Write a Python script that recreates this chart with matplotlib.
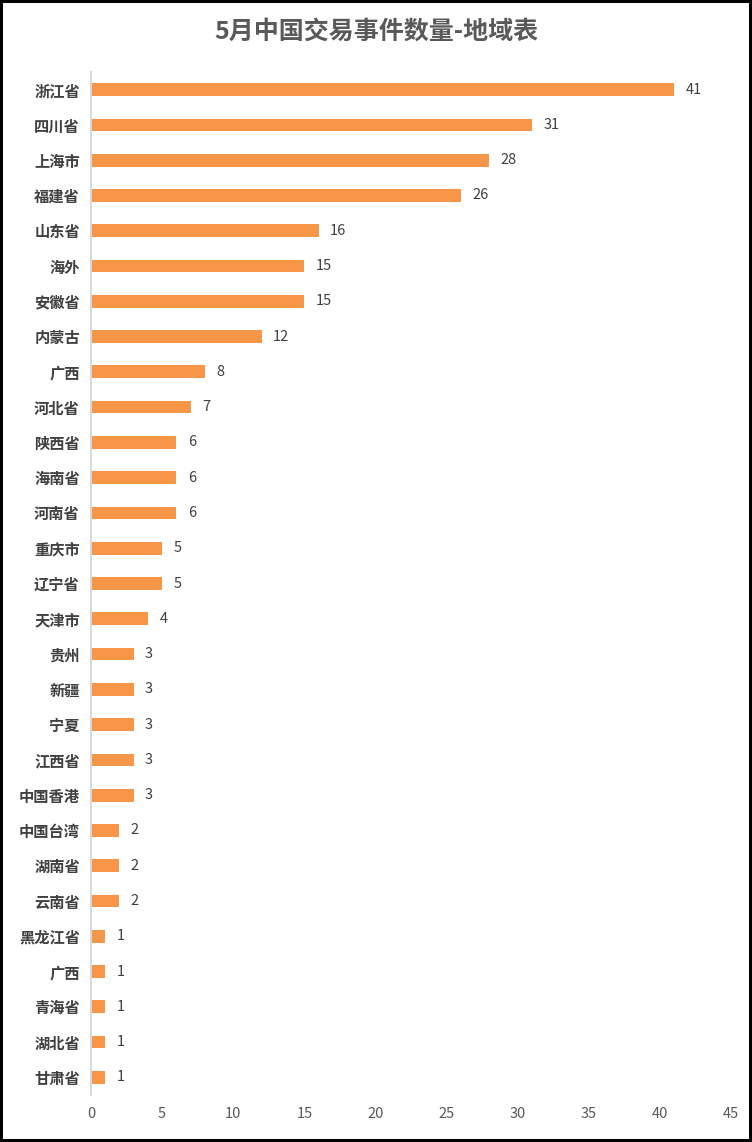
import matplotlib.pyplot as plt

plt.rcParams['font.family'] = ['Noto Sans CJK SC', 'DejaVu Sans']

# 地区与交易事件数量
regions = ['浙江省', '四川省', '上海市', '福建省', '山东省', '海外', '安徽省', '内蒙古',
           '广西', '河北省', '陕西省', '海南省', '河南省', '重庆市', '辽宁省', '天津市',
           '贵州', '新疆', '宁夏', '江西省', '中国香港', '中国台湾', '湖南省', '云南省',
           '黑龙江省', '广西', '青海省', '湖北省', '甘肃省']
counts = [41, 31, 28, 26, 16, 15, 15, 12, 8, 7, 6, 6, 6, 5, 5, 4,
          3, 3, 3, 3, 3, 2, 2, 2, 1, 1, 1, 1, 1]
xticks = [0, 5, 10, 15, 20, 25, 30, 35, 40, 45]

W, H = 752, 1142
fig = plt.figure(figsize=(W / 100, H / 100), dpi=100)
fig.patch.set_edgecolor('black')
fig.patch.set_linewidth(3)

ax = fig.add_axes([91 / W, 1 - 1095 / H, (731 - 91) / W, (1095 - 72) / H])
pos = list(range(len(regions)))
bars = ax.barh(pos, counts, height=0.36, color='#F79646')

for y, v in zip(pos, counts):
    ax.text(v + 0.8, y, str(v), va='center', ha='left', fontsize=10.5, color='#404040')

ax.set_ylim(len(regions) - 0.5, -0.5)
ax.set_xlim(0, 45)
ax.set_yticks(pos)
ax.set_yticklabels(regions, fontsize=11, fontweight='bold', color='#404040')
ax.set_xticks(xticks)
ax.set_xticklabels([str(t) for t in xticks], fontsize=10.5, color='#595959')
ax.tick_params(axis='x', length=0, pad=9)
ax.tick_params(axis='y', length=0, pad=8)

for s in ['top', 'right', 'bottom']:
    ax.spines[s].set_visible(False)
ax.spines['left'].set_color('#D9D9D9')
ax.spines['left'].set_linewidth(1.5)

fig.text(0.5, 1 - 32 / H, '5月中国交易事件数量-地域表', ha='center', va='center',
         fontsize=18, fontweight='bold', color='#595959')

fig.savefig('out.png', dpi=100, edgecolor=fig.get_edgecolor())
